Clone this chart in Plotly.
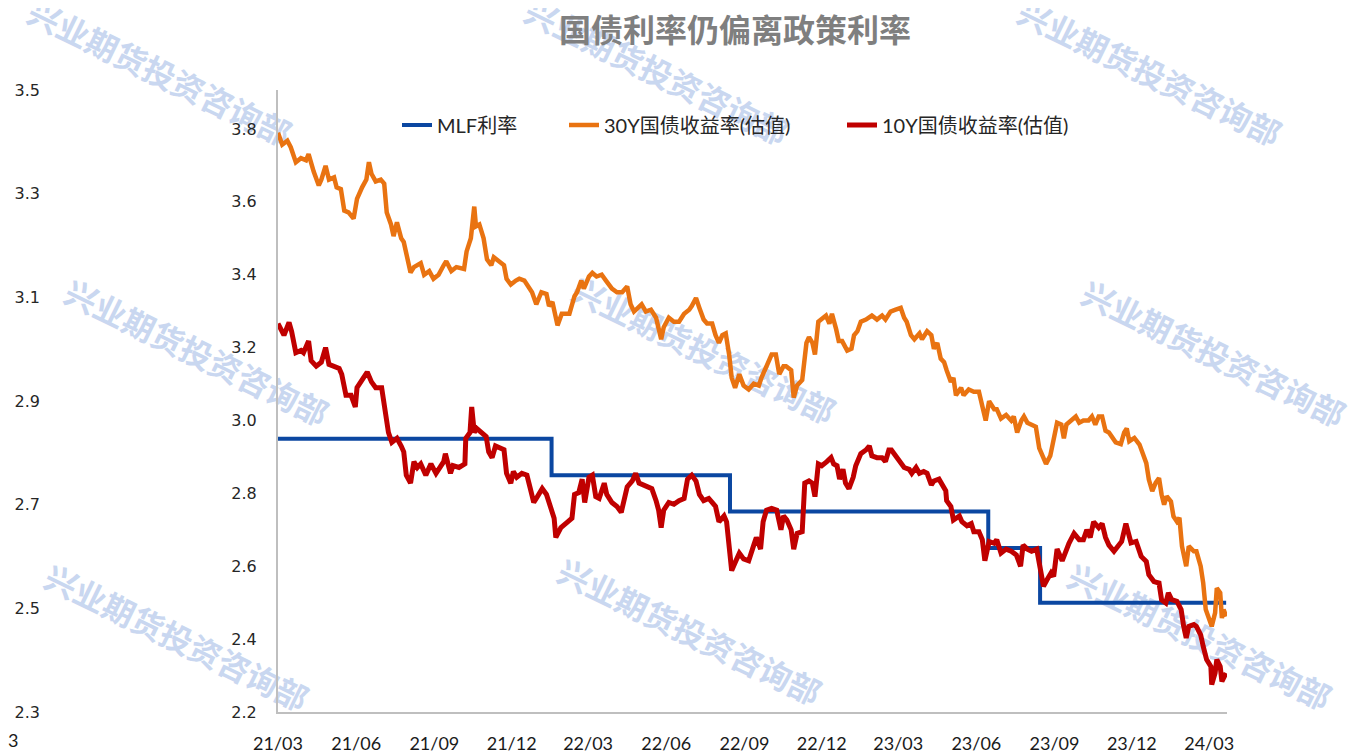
import plotly.graph_objects as go

# MLF 政策利率（阶梯）
mlf_dates = ["2021-03-01", "2022-01-17", "2022-08-15", "2023-06-15", "2023-08-15", "2024-03-21"]
mlf_rate = [2.95, 2.85, 2.75, 2.65, 2.50, 2.50]

# 30Y 国债收益率(估值)，按月分行
dates_30y = [
    "2021-03-01", "2021-03-06", "2021-03-12", "2021-03-16", "2021-03-22", "2021-03-28",
    "2021-04-03", "2021-04-06", "2021-04-12", "2021-04-18", "2021-04-21", "2021-04-26", "2021-04-30",
    "2021-05-06", "2021-05-09", "2021-05-14", "2021-05-18", "2021-05-23", "2021-05-29",
    "2021-06-02", "2021-06-08", "2021-06-13", "2021-06-16", "2021-06-19", "2021-06-24", "2021-06-30",
    "2021-07-04", "2021-07-07", "2021-07-12", "2021-07-15", "2021-07-19", "2021-07-24", "2021-07-27", "2021-07-31",
    "2021-08-04", "2021-08-08", "2021-08-12", "2021-08-16", "2021-08-20", "2021-08-26", "2021-08-31",
    "2021-09-06", "2021-09-12", "2021-09-15", "2021-09-21", "2021-09-27",
    "2021-10-06", "2021-10-09", "2021-10-14", "2021-10-18", "2021-10-20", "2021-10-24", "2021-10-29",
    "2021-11-02", "2021-11-07", "2021-11-10", "2021-11-16", "2021-11-22", "2021-11-25", "2021-11-30",
    "2021-12-06", "2021-12-10", "2021-12-16", "2021-12-21", "2021-12-25", "2021-12-30",
    "2022-01-05", "2022-01-11", "2022-01-14", "2022-01-18", "2022-01-22", "2022-01-24", "2022-01-29",
    "2022-02-07", "2022-02-13", "2022-02-16", "2022-02-21", "2022-02-24",
    "2022-03-02", "2022-03-06", "2022-03-11", "2022-03-17", "2022-03-22", "2022-03-29",
    "2022-04-04", "2022-04-10", "2022-04-16", "2022-04-20", "2022-04-24", "2022-04-30",
    "2022-05-03", "2022-05-08", "2022-05-14", "2022-05-20", "2022-05-23", "2022-05-26", "2022-05-29",
    "2022-06-04", "2022-06-10", "2022-06-16", "2022-06-22", "2022-06-28",
    "2022-07-01", "2022-07-06", "2022-07-10", "2022-07-15", "2022-07-19", "2022-07-25", "2022-07-29",
    "2022-08-02", "2022-08-06", "2022-08-10", "2022-08-14", "2022-08-17", "2022-08-21", "2022-08-26", "2022-08-31",
    "2022-09-06", "2022-09-12", "2022-09-18", "2022-09-21", "2022-09-27",
    "2022-10-03", "2022-10-08", "2022-10-12", "2022-10-17", "2022-10-20", "2022-10-26", "2022-10-29",
    "2022-11-02", "2022-11-08", "2022-11-13", "2022-11-16", "2022-11-20", "2022-11-23", "2022-11-27",
    "2022-12-01", "2022-12-06", "2022-12-10", "2022-12-13", "2022-12-18", "2022-12-21", "2022-12-25", "2022-12-31",
    "2023-01-05", "2023-01-08", "2023-01-12", "2023-01-16", "2023-01-22", "2023-01-29",
    "2023-02-04", "2023-02-10", "2023-02-14", "2023-02-20", "2023-02-26",
    "2023-03-04", "2023-03-08", "2023-03-11", "2023-03-16", "2023-03-20", "2023-03-26", "2023-03-29",
    "2023-04-04", "2023-04-09", "2023-04-12", "2023-04-16", "2023-04-20", "2023-04-24", "2023-04-27",
    "2023-05-02", "2023-05-05", "2023-05-08", "2023-05-14", "2023-05-17", "2023-05-23", "2023-05-29",
    "2023-06-04", "2023-06-08", "2023-06-12", "2023-06-16", "2023-06-22", "2023-06-25", "2023-06-30",
    "2023-07-06", "2023-07-12", "2023-07-15", "2023-07-19", "2023-07-24", "2023-07-27", "2023-07-31",
    "2023-08-05", "2023-08-10", "2023-08-14", "2023-08-18", "2023-08-22", "2023-08-27", "2023-08-31",
    "2023-09-04", "2023-09-09", "2023-09-12", "2023-09-15", "2023-09-21", "2023-09-26", "2023-09-30",
    "2023-10-05", "2023-10-11", "2023-10-15", "2023-10-19", "2023-10-23", "2023-10-27", "2023-10-31",
    "2023-11-04", "2023-11-08", "2023-11-12", "2023-11-18", "2023-11-22", "2023-11-25", "2023-11-28",
    "2023-12-04", "2023-12-10", "2023-12-13", "2023-12-18", "2023-12-21", "2023-12-25", "2023-12-29",
    "2024-01-02", "2024-01-05", "2024-01-08", "2024-01-11", "2024-01-16", "2024-01-19", "2024-01-23", "2024-01-26", "2024-01-29",
    "2024-02-03", "2024-02-06", "2024-02-12", "2024-02-15", "2024-02-20", "2024-02-23", "2024-02-26",
    "2024-03-01", "2024-03-04", "2024-03-08", "2024-03-10", "2024-03-14", "2024-03-16", "2024-03-18", "2024-03-21",
]
yield_30y = [
    3.79, 3.757, 3.768, 3.75, 3.709, 3.72,
    3.714, 3.731, 3.683, 3.645, 3.661, 3.699, 3.661,
    3.667, 3.64, 3.635, 3.576, 3.571, 3.554,
    3.608, 3.64, 3.661, 3.709, 3.677, 3.656, 3.661,
    3.65, 3.571, 3.538, 3.506, 3.544, 3.50, 3.49, 3.448,
    3.406, 3.421, 3.426, 3.432, 3.40, 3.41, 3.389,
    3.40, 3.426, 3.437, 3.41, 3.421,
    3.416, 3.464, 3.50, 3.587, 3.533, 3.538, 3.50,
    3.442, 3.426, 3.448, 3.437, 3.426, 3.389, 3.373,
    3.384, 3.389, 3.384, 3.368, 3.352, 3.319,
    3.352, 3.347, 3.314, 3.325, 3.282, 3.261, 3.293,
    3.293, 3.341, 3.352, 3.384, 3.362,
    3.395, 3.405, 3.395, 3.40, 3.384, 3.362,
    3.352, 3.352, 3.368, 3.319, 3.299, 3.314,
    3.319, 3.299, 3.304, 3.282, 3.256, 3.223, 3.256,
    3.282, 3.271, 3.271, 3.293, 3.304,
    3.314, 3.336, 3.309, 3.277, 3.266, 3.266, 3.234,
    3.213, 3.234, 3.239, 3.181, 3.117, 3.09, 3.127, 3.096,
    3.085, 3.101, 3.096, 3.117, 3.149,
    3.181, 3.181, 3.127, 3.149, 3.149, 3.138, 3.063,
    3.096, 3.111, 3.213, 3.229, 3.213, 3.181, 3.271,
    3.277, 3.288, 3.266, 3.293, 3.25, 3.218, 3.218, 3.192,
    3.197, 3.234, 3.245, 3.271, 3.277, 3.288,
    3.277, 3.288, 3.277, 3.299, 3.304,
    3.309, 3.282, 3.271, 3.234, 3.223, 3.239, 3.223,
    3.245, 3.234, 3.197, 3.213, 3.17, 3.16, 3.138,
    3.106, 3.117, 3.069, 3.09, 3.069, 3.085, 3.079,
    3.079, 3.042, 3.00, 3.053, 3.031, 3.031, 3.005,
    3.015, 3.00, 3.011, 2.967, 3.00, 3.011, 2.994,
    2.989, 2.983, 2.924, 2.898, 2.881, 2.903, 2.956,
    2.994, 2.989, 2.951, 2.989, 3.00, 3.011, 2.994,
    3.00, 3.00, 3.011, 2.989, 3.011, 3.011, 2.972,
    2.967, 2.951, 2.94, 2.935, 2.967, 2.978, 2.943,
    2.952, 2.934, 2.915, 2.883, 2.838, 2.806, 2.829,
    2.842, 2.797, 2.769, 2.792, 2.778, 2.737, 2.723, 2.733, 2.655,
    2.60, 2.655, 2.641, 2.641, 2.60, 2.554, 2.481,
    2.458, 2.435, 2.472, 2.54, 2.527, 2.458, 2.481, 2.462,
]

# 10Y 国债收益率(估值)
dates_10y = [
    "2021-03-01", "2021-03-05", "2021-03-08", "2021-03-14", "2021-03-17", "2021-03-22", "2021-03-28", "2021-03-31",
    "2021-04-06", "2021-04-09", "2021-04-15", "2021-04-21", "2021-04-26", "2021-04-30",
    "2021-05-06", "2021-05-12", "2021-05-15", "2021-05-20", "2021-05-26", "2021-05-31",
    "2021-06-02", "2021-06-08", "2021-06-14", "2021-06-19", "2021-06-24",
    "2021-07-01", "2021-07-06", "2021-07-09", "2021-07-13", "2021-07-19", "2021-07-24", "2021-07-27", "2021-07-30",
    "2021-08-04", "2021-08-08", "2021-08-12", "2021-08-16", "2021-08-22", "2021-08-28",
    "2021-09-03", "2021-09-12", "2021-09-14", "2021-09-20", "2021-09-23", "2021-09-30",
    "2021-10-07", "2021-10-08", "2021-10-13", "2021-10-15", "2021-10-18", "2021-10-21", "2021-10-27",
    "2021-11-01", "2021-11-04", "2021-11-08", "2021-11-12", "2021-11-18", "2021-11-22", "2021-11-25", "2021-11-30",
    "2021-12-03", "2021-12-07", "2021-12-13", "2021-12-19", "2021-12-23", "2021-12-27", "2021-12-30",
    "2022-01-06", "2022-01-11", "2022-01-16", "2022-01-20", "2022-01-22", "2022-01-28",
    "2022-02-05", "2022-02-10", "2022-02-13", "2022-02-18", "2022-02-22", "2022-02-25",
    "2022-03-02", "2022-03-06", "2022-03-10", "2022-03-14", "2022-03-20", "2022-03-23", "2022-03-29",
    "2022-04-04", "2022-04-09", "2022-04-12", "2022-04-16", "2022-04-22", "2022-04-26", "2022-04-30",
    "2022-05-06", "2022-05-12", "2022-05-15", "2022-05-20", "2022-05-23", "2022-05-26", "2022-05-29",
    "2022-06-04", "2022-06-10", "2022-06-16", "2022-06-22", "2022-06-26",
    "2022-07-01", "2022-07-06", "2022-07-10", "2022-07-15", "2022-07-21", "2022-07-25", "2022-07-29",
    "2022-08-02", "2022-08-08", "2022-08-11", "2022-08-15", "2022-08-17", "2022-08-22", "2022-08-26", "2022-08-31",
    "2022-09-06", "2022-09-12", "2022-09-15", "2022-09-20", "2022-09-23", "2022-09-27",
    "2022-10-03", "2022-10-09", "2022-10-14", "2022-10-17", "2022-10-21", "2022-10-26", "2022-10-29",
    "2022-11-02", "2022-11-08", "2022-11-11", "2022-11-16", "2022-11-20", "2022-11-23", "2022-11-27",
    "2022-12-01", "2022-12-07", "2022-12-12", "2022-12-15", "2022-12-19", "2022-12-22", "2022-12-26", "2022-12-29",
    "2023-01-02", "2023-01-07", "2023-01-10", "2023-01-16", "2023-01-22", "2023-01-26", "2023-01-29",
    "2023-02-04", "2023-02-10", "2023-02-14", "2023-02-18", "2023-02-21", "2023-02-26",
    "2023-03-04", "2023-03-08", "2023-03-14", "2023-03-17", "2023-03-22", "2023-03-26", "2023-03-31",
    "2023-04-04", "2023-04-09", "2023-04-12", "2023-04-18", "2023-04-22", "2023-04-26", "2023-04-27",
    "2023-05-02", "2023-05-05", "2023-05-08", "2023-05-12", "2023-05-15", "2023-05-21", "2023-05-26", "2023-05-29",
    "2023-06-04", "2023-06-08", "2023-06-11", "2023-06-16", "2023-06-22", "2023-06-25", "2023-06-30",
    "2023-07-06", "2023-07-12", "2023-07-18", "2023-07-23", "2023-07-26", "2023-07-31",
    "2023-08-05", "2023-08-11", "2023-08-16", "2023-08-19", "2023-08-23", "2023-08-28", "2023-08-31",
    "2023-09-04", "2023-09-10", "2023-09-15", "2023-09-18", "2023-09-24", "2023-09-30",
    "2023-10-05", "2023-10-09", "2023-10-13", "2023-10-17", "2023-10-23", "2023-10-27", "2023-10-31",
    "2023-11-04", "2023-11-10", "2023-11-16", "2023-11-19", "2023-11-24", "2023-11-30",
    "2023-12-06", "2023-12-12", "2023-12-18", "2023-12-21", "2023-12-27",
    "2024-01-02", "2024-01-05", "2024-01-10", "2024-01-13", "2024-01-17", "2024-01-23", "2024-01-28", "2024-01-31",
    "2024-02-03", "2024-02-06", "2024-02-12", "2024-02-15", "2024-02-20", "2024-02-23", "2024-02-27",
    "2024-03-03", "2024-03-04", "2024-03-08", "2024-03-10", "2024-03-14", "2024-03-16", "2024-03-21",
]
yield_10y = [
    3.266, 3.245, 3.234, 3.269, 3.245, 3.186, 3.192, 3.186,
    3.218, 3.164, 3.149, 3.16, 3.20, 3.154,
    3.149, 3.143, 3.127, 3.069, 3.069, 3.037,
    3.09, 3.112, 3.133, 3.106, 3.09,
    3.09, 3.00, 2.967, 2.94, 2.951, 2.93, 2.914, 2.85,
    2.828, 2.887, 2.871, 2.881, 2.85, 2.881,
    2.855, 2.887, 2.909, 2.855, 2.876, 2.871,
    2.881, 2.951, 2.967, 3.037, 2.967, 2.978, 2.967,
    2.956, 2.914, 2.898, 2.93, 2.924, 2.92, 2.855, 2.828,
    2.86, 2.844, 2.855, 2.85, 2.813, 2.775, 2.786,
    2.813, 2.797, 2.764, 2.732, 2.679, 2.706,
    2.722, 2.732, 2.797, 2.802, 2.839, 2.775,
    2.844, 2.85, 2.791, 2.786, 2.828, 2.797, 2.775,
    2.764, 2.748, 2.78, 2.818, 2.834, 2.855, 2.828,
    2.823, 2.818, 2.813, 2.78, 2.754, 2.706, 2.754,
    2.775, 2.77, 2.78, 2.786, 2.839,
    2.85, 2.834, 2.797, 2.78, 2.786, 2.775, 2.764,
    2.722, 2.738, 2.722, 2.636, 2.588, 2.615, 2.636, 2.62,
    2.615, 2.658, 2.679, 2.647, 2.722, 2.754,
    2.759, 2.754, 2.70, 2.738, 2.727, 2.70, 2.647,
    2.69, 2.695, 2.828, 2.834, 2.828, 2.791, 2.881,
    2.876, 2.887, 2.898, 2.881, 2.876, 2.839, 2.866, 2.828,
    2.813, 2.844, 2.876, 2.909, 2.919, 2.93, 2.903,
    2.898, 2.898, 2.887, 2.919, 2.919, 2.903,
    2.887, 2.871, 2.866, 2.855, 2.871, 2.855, 2.86,
    2.855, 2.823, 2.834, 2.839, 2.823, 2.807, 2.78,
    2.764, 2.727, 2.732, 2.738, 2.722, 2.711, 2.717, 2.695,
    2.695, 2.673, 2.615, 2.668, 2.663, 2.673, 2.636,
    2.647, 2.641, 2.631, 2.60, 2.658, 2.647,
    2.641, 2.647, 2.577, 2.545, 2.562, 2.582, 2.572,
    2.647, 2.615, 2.647, 2.663, 2.69, 2.673,
    2.673, 2.70, 2.679, 2.722, 2.706, 2.717, 2.679,
    2.658, 2.641, 2.658, 2.668, 2.717, 2.664,
    2.668, 2.627, 2.613, 2.577, 2.558,
    2.554, 2.508, 2.499, 2.527, 2.508, 2.504, 2.481, 2.435,
    2.403, 2.435, 2.44, 2.435, 2.412, 2.38, 2.344,
    2.325, 2.275, 2.307, 2.344, 2.325, 2.284, 2.307,
]

assert len(dates_30y) == len(yield_30y)
assert len(dates_10y) == len(yield_10y)

watermark = "兴业期货投资咨询部"
# 水印中心（页面像素）
wm_centers = [(158, 76), (655, 75), (1148, 76),
              (195, 356), (702, 354), (1212, 357),
              (175, 641), (688, 635), (1198, 640)]

# 页面默认有 8px 边距，图按页面坐标换算
OFF = 8
W, H = 1360 - OFF, 751 - OFF
PLOT_LEFT, PLOT_RIGHT, PLOT_TOP, PLOT_BOTTOM = 278, 1227, 90, 712
L = 42 - OFF
R = W - (PLOT_RIGHT - OFF)
T = PLOT_TOP - OFF
B = H - (PLOT_BOTTOM - OFF)
PW = W - L - R
PH = H - T - B

def fx(px):
    return (px - OFF - L) / PW

def fy(py):
    return (PLOT_BOTTOM - py) / PH

BLUE = "#0B47A1"
ORANGE = "#E97311"
RED = "#C00000"
AXIS = "#BFBFBF"
num_font = dict(family="DejaVu Sans", size=16, color="#262626")
lat_font = "Lato, Noto Sans CJK SC"

fig = go.Figure()
fig.add_trace(go.Scatter(x=mlf_dates, y=mlf_rate, name="MLF利率", mode="lines",
                         line=dict(color=BLUE, width=4, shape="hv"), legendwidth=122))
fig.add_trace(go.Scatter(x=dates_30y, y=yield_30y, name="30Y国债收益率(估值)", mode="lines",
                         line=dict(color=ORANGE, width=4.5), legendwidth=233))
fig.add_trace(go.Scatter(x=dates_10y, y=yield_10y, name="10Y国债收益率(估值)", mode="lines",
                         line=dict(color=RED, width=5)))
# 外侧刻度轴（无数据）
fig.add_trace(go.Scatter(x=[], y=[], yaxis="y2", showlegend=False, hoverinfo="skip"))

shapes = []
for cx, cy in wm_centers:
    shapes.append(dict(type="line", xref="paper", yref="paper", layer="below",
                       x0=fx(cx - 135), y0=fy(cy - 66), x1=fx(cx + 135), y1=fy(cy + 66),
                       line=dict(color="rgba(0,0,0,0)", width=0),
                       label=dict(text=watermark, textposition="middle", yanchor="middle",
                                  font=dict(family="Noto Sans CJK SC", size=32,
                                            color="#C9D7F0", weight=700))))

fig.update_layout(
    width=W, height=H,
    margin=dict(l=L, r=R, t=T, b=B, autoexpand=False),
    paper_bgcolor="white",
    plot_bgcolor="rgba(0,0,0,0)",
    showlegend=True,
    legend=dict(orientation="h", x=fx(397), xanchor="left", y=fy(125), yanchor="middle",
                font=dict(family=lat_font, size=20, color="#262626"),
                bgcolor="rgba(0,0,0,0)", traceorder="normal", borderwidth=0),
    xaxis=dict(domain=[fx(PLOT_LEFT), 1], type="date", automargin=False,
               range=["2021-03-01", "2024-03-22"],
               tick0="2021-03-01", dtick="M3", tickformat="%y/%m",
               showline=True, linecolor=AXIS, linewidth=2, showgrid=False, zeroline=False,
               ticks="", ticklabelstandoff=14,
               tickfont=dict(family=lat_font, size=18, color="#1a1a1a")),
    yaxis=dict(range=[2.2, 3.907], tick0=2.2, dtick=0.2, tickformat=".1f", automargin=False,
               showline=True, linecolor=AXIS, linewidth=2, showgrid=False, zeroline=False,
               ticks="", ticklabelstandoff=16, tickfont=num_font),
    yaxis2=dict(overlaying="y", anchor="free", position=0, side="left", automargin=False,
                range=[2.3, 3.5], tick0=2.3, dtick=0.2, tickformat=".1f",
                showline=False, showgrid=False, zeroline=False,
                ticks="", ticklabelstandoff=2, tickfont=num_font),
    shapes=shapes,
    annotations=[
        dict(text="国债利率仍偏离政策利率", xref="paper", yref="paper",
             x=fx(735), y=fy(28), xanchor="center", yanchor="middle", showarrow=False,
             font=dict(family="Noto Sans CJK SC", size=32, color="#7F7F7F", weight=700)),
        dict(text="3", xref="paper", yref="paper", x=fx(13), y=fy(740),
             xanchor="center", yanchor="middle", showarrow=False,
             font=dict(family=lat_font, size=18, color="#1a1a1a")),
    ],
)

fig.write_html("out.html")
